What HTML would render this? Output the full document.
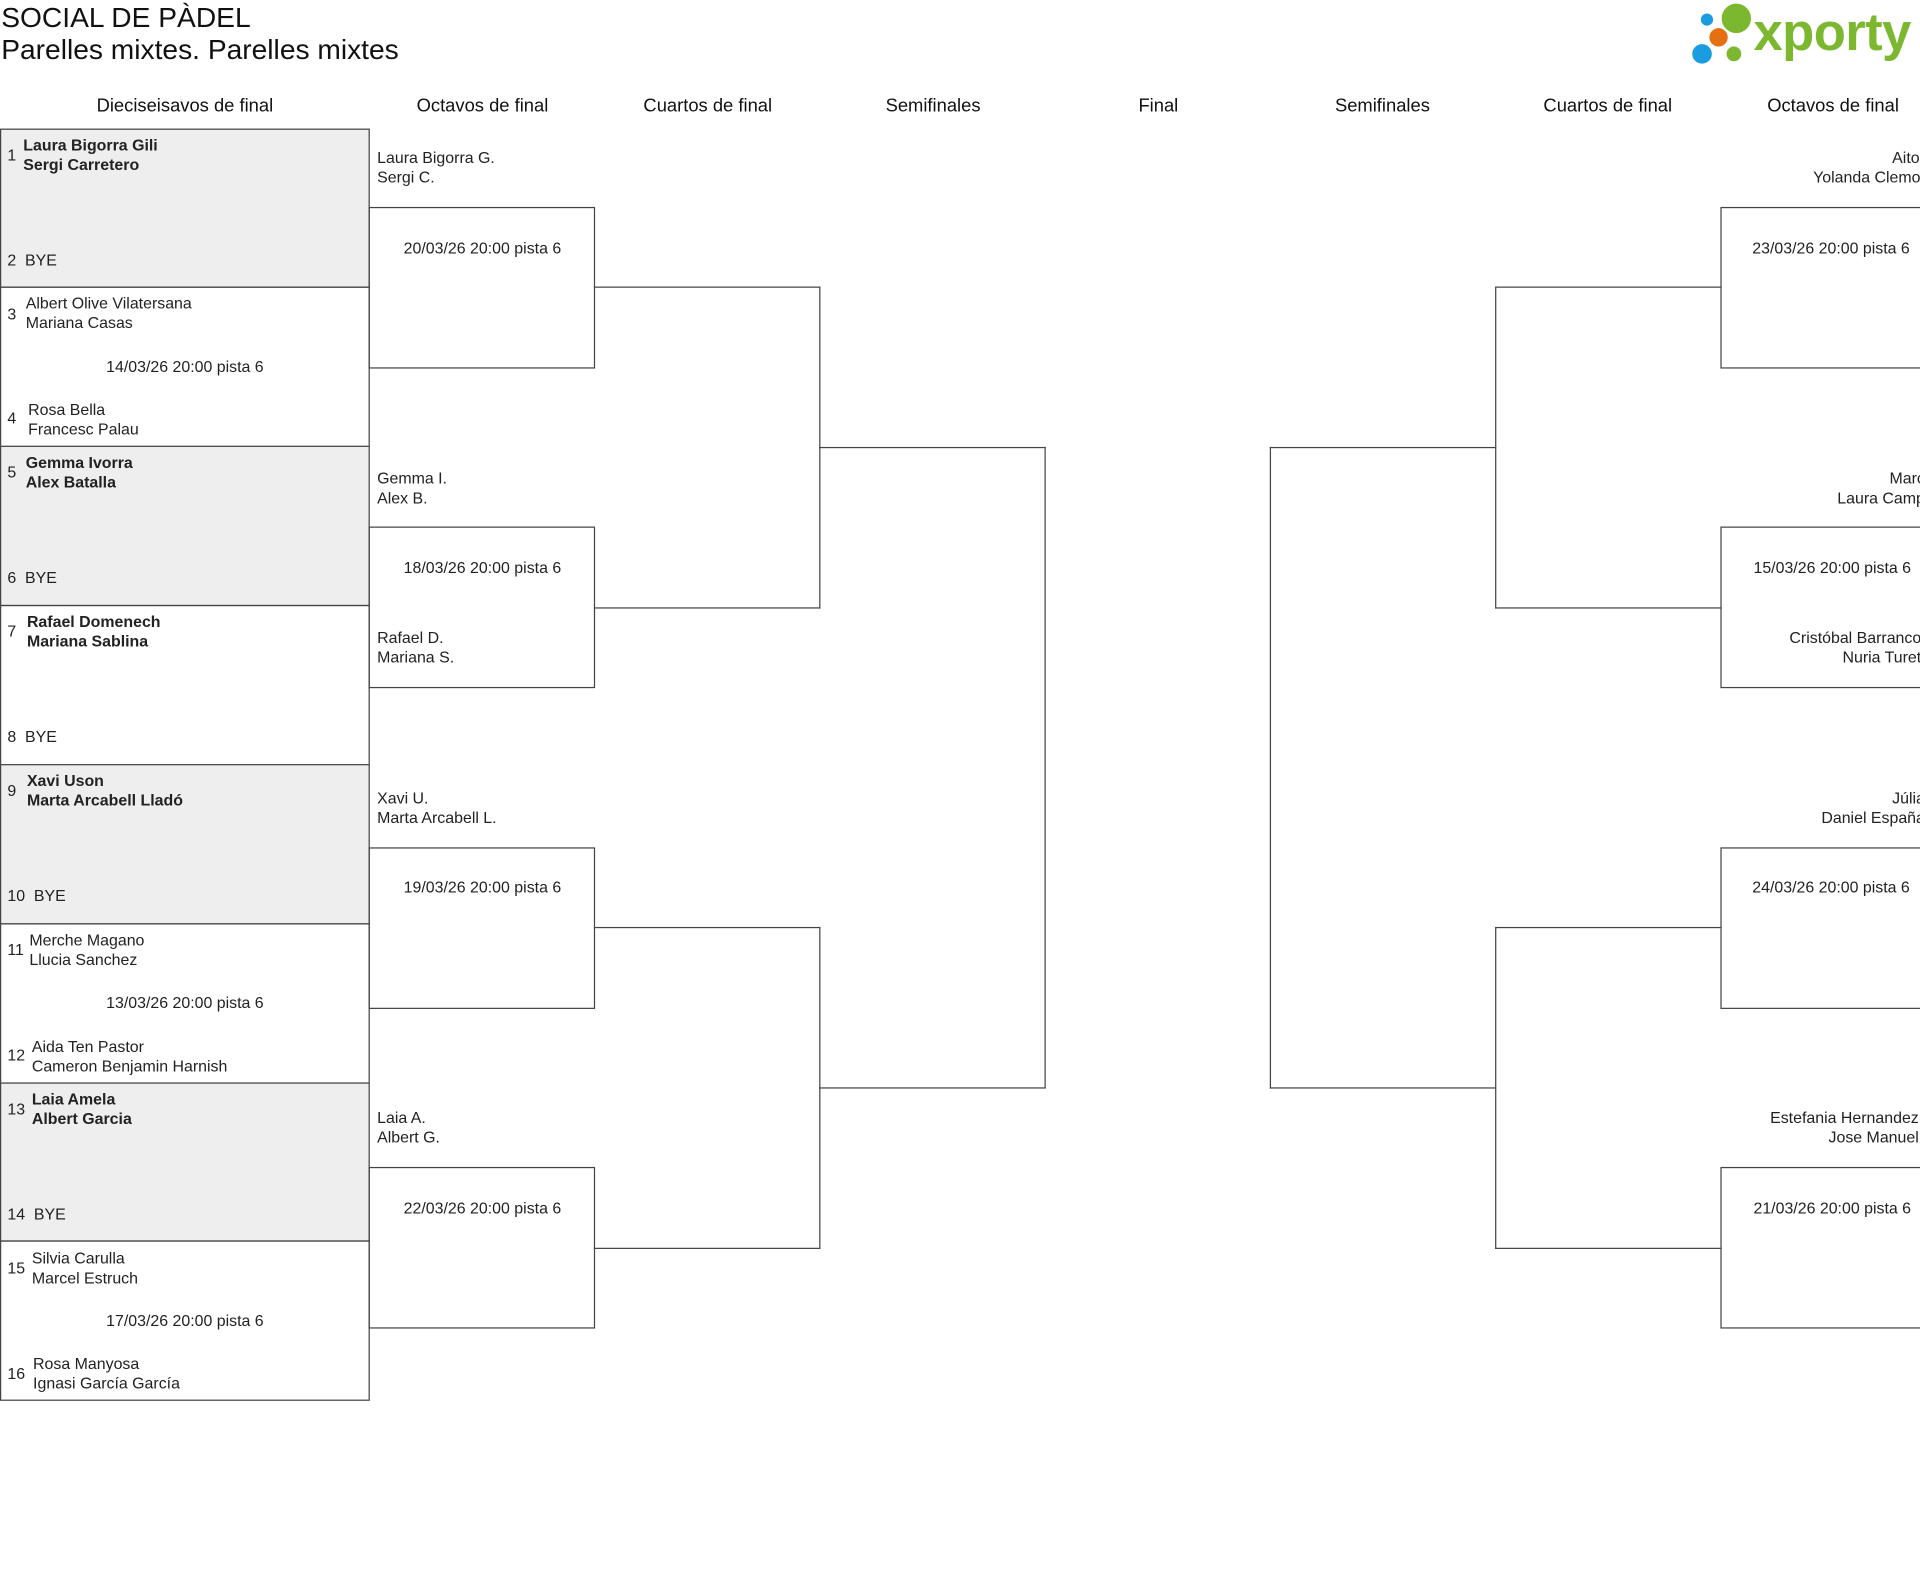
<!DOCTYPE html>
<html><head><meta charset="utf-8"><style>
html,body{margin:0;padding:0;background:#fff;}
body{width:1920px;height:1572px;overflow:hidden;position:relative;}
#w{position:absolute;left:0;top:0;width:1568px;height:1284px;transform:scale(1.22449);transform-origin:0 0;overflow:hidden;font-family:"Liberation Sans",sans-serif;color:#222;}
.a{position:absolute;white-space:nowrap;}
.t{font-size:13px;line-height:15.5px;}
.b{font-weight:bold;}
.h{font-size:15px;width:184px;text-align:center;top:78px;color:#111;}
.box{position:absolute;border:1px solid #444;box-sizing:border-box;}
.r{text-align:right;}
.c{text-align:center;}
</style></head><body><div id="w">
<div class="a" style="left:1px;top:1px;font-size:23px;color:#111">SOCIAL DE PÀDEL</div>
<div class="a" style="left:1px;top:27px;font-size:23px;color:#111">Parelles mixtes. Parelles mixtes</div>

<div class="a" style="left:1382px;top:36px;width:16px;height:16px;border-radius:50%;background:#1a9de0"></div>
<div class="a" style="left:1389px;top:11px;width:10px;height:10px;border-radius:50%;background:#1a9de0"></div>
<div class="a" style="left:1406px;top:3px;width:24px;height:24px;border-radius:50%;background:#7cb82f"></div>
<div class="a" style="left:1396px;top:23px;width:15px;height:15px;border-radius:50%;background:#e57012"></div>
<div class="a" style="left:1410px;top:38px;width:12px;height:12px;border-radius:50%;background:#7cb82f"></div>
<div class="a" style="left:1432px;top:3px;font-size:43px;font-weight:bold;color:#7cb82f;letter-spacing:-0.5px">xporty</div>

<div class="a h" style="left:59px">Dieciseisavos de final</div>
<div class="a h" style="left:302px">Octavos de final</div>
<div class="a h" style="left:486px">Cuartos de final</div>
<div class="a h" style="left:670px">Semifinales</div>
<div class="a h" style="left:854px">Final</div>
<div class="a h" style="left:1037px">Semifinales</div>
<div class="a h" style="left:1221px">Cuartos de final</div>
<div class="a h" style="left:1405px">Octavos de final</div>

<div class="box" style="left:0;top:105px;width:302px;height:130px;background:#eee"></div>
<div class="box" style="left:0;top:234px;width:302px;height:131px"></div>
<div class="box" style="left:0;top:364px;width:302px;height:131px;background:#eee"></div>
<div class="box" style="left:0;top:494px;width:302px;height:131px"></div>
<div class="box" style="left:0;top:624px;width:302px;height:131px;background:#eee"></div>
<div class="box" style="left:0;top:754px;width:302px;height:131px"></div>
<div class="box" style="left:0;top:884px;width:302px;height:130px;background:#eee"></div>
<div class="box" style="left:0;top:1013px;width:302px;height:131px"></div>

<div class="a t" style="left:6px;top:119px">1</div><div class="a t b" style="left:19px;top:111px">Laura Bigorra Gili<br>Sergi Carretero</div>
<div class="a t" style="left:6px;top:205px">2&nbsp;&nbsp;BYE</div>

<div class="a t" style="left:6px;top:249px">3</div><div class="a t" style="left:21px;top:240px">Albert Olive Vilatersana<br>Mariana Casas</div>
<div class="a t c" style="left:0;width:302px;top:292px">14/03/26 20:00 pista 6</div>
<div class="a t" style="left:6px;top:334px">4</div><div class="a t" style="left:23px;top:327px">Rosa Bella<br>Francesc Palau</div>

<div class="a t" style="left:6px;top:378px">5</div><div class="a t b" style="left:21px;top:370px">Gemma Ivorra<br>Alex Batalla</div>
<div class="a t" style="left:6px;top:464px">6&nbsp;&nbsp;BYE</div>

<div class="a t" style="left:6px;top:508px">7</div><div class="a t b" style="left:22px;top:500px">Rafael Domenech<br>Mariana Sablina</div>
<div class="a t" style="left:6px;top:594px">8&nbsp;&nbsp;BYE</div>

<div class="a t" style="left:6px;top:638px">9</div><div class="a t b" style="left:22px;top:630px">Xavi Uson<br>Marta Arcabell Lladó</div>
<div class="a t" style="left:6px;top:724px">10&nbsp;&nbsp;BYE</div>

<div class="a t" style="left:6px;top:768px">11</div><div class="a t" style="left:24px;top:760px">Merche Magano<br>Llucia Sanchez</div>
<div class="a t c" style="left:0;width:302px;top:811px">13/03/26 20:00 pista 6</div>
<div class="a t" style="left:6px;top:854px">12</div><div class="a t" style="left:26px;top:847px">Aida Ten Pastor<br>Cameron Benjamin Harnish</div>

<div class="a t" style="left:6px;top:898px">13</div><div class="a t b" style="left:26px;top:890px">Laia Amela<br>Albert Garcia</div>
<div class="a t" style="left:6px;top:984px">14&nbsp;&nbsp;BYE</div>

<div class="a t" style="left:6px;top:1028px">15</div><div class="a t" style="left:26px;top:1020px">Silvia Carulla<br>Marcel Estruch</div>
<div class="a t c" style="left:0;width:302px;top:1071px">17/03/26 20:00 pista 6</div>
<div class="a t" style="left:6px;top:1114px">16</div><div class="a t" style="left:27px;top:1106px">Rosa Manyosa<br>Ignasi García García</div>

<div class="box" style="left:301px;top:169px;width:185px;height:132px"></div>
<div class="box" style="left:301px;top:430px;width:185px;height:132px"></div>
<div class="box" style="left:301px;top:692px;width:185px;height:132px"></div>
<div class="box" style="left:301px;top:953px;width:185px;height:132px"></div>
<div class="a t" style="left:308px;top:121px">Laura Bigorra G.<br>Sergi C.</div>
<div class="a t c" style="left:302px;width:184px;top:195px">20/03/26 20:00 pista 6</div>
<div class="a t" style="left:308px;top:383px">Gemma I.<br>Alex B.</div>
<div class="a t c" style="left:302px;width:184px;top:456px">18/03/26 20:00 pista 6</div>
<div class="a t" style="left:308px;top:513px">Rafael D.<br>Mariana S.</div>
<div class="a t" style="left:308px;top:644px">Xavi U.<br>Marta Arcabell L.</div>
<div class="a t c" style="left:302px;width:184px;top:717px">19/03/26 20:00 pista 6</div>
<div class="a t" style="left:308px;top:905px">Laia A.<br>Albert G.</div>
<div class="a t c" style="left:302px;width:184px;top:979px">22/03/26 20:00 pista 6</div>

<div class="box" style="left:485px;top:234px;width:185px;height:263px;border-left:none"></div>
<div class="box" style="left:485px;top:757px;width:185px;height:263px;border-left:none"></div>
<div class="box" style="left:669px;top:365px;width:185px;height:524px;border-left:none"></div>
<div class="box" style="left:1037px;top:365px;width:185px;height:524px;border-right:none"></div>
<div class="box" style="left:1221px;top:234px;width:185px;height:263px;border-right:none"></div>
<div class="box" style="left:1221px;top:757px;width:185px;height:263px;border-right:none"></div>

<div class="box" style="left:1405px;top:169px;width:200px;height:132px"></div>
<div class="box" style="left:1405px;top:430px;width:200px;height:132px"></div>
<div class="box" style="left:1405px;top:692px;width:200px;height:132px"></div>
<div class="box" style="left:1405px;top:953px;width:200px;height:132px"></div>
<div class="a t r" style="right:-4px;top:121px">Aitor<br>Yolanda Clemot</div>
<div class="a t" style="left:1431px;top:195px">23/03/26 20:00 pista 6</div>
<div class="a t r" style="right:-4px;top:383px">Marc<br>Laura Camp</div>
<div class="a t" style="left:1432px;top:456px">15/03/26 20:00 pista 6</div>
<div class="a t r" style="right:-1px;top:513px">Cristóbal Barranco<br>Nuria Turet</div>
<div class="a t r" style="right:-4px;top:644px">Júlia<br>Daniel España</div>
<div class="a t" style="left:1431px;top:717px">24/03/26 20:00 pista 6</div>
<div class="a t r" style="right:1px;top:905px">Estefania Hernandez<br>Jose Manuel</div>
<div class="a t" style="left:1432px;top:979px">21/03/26 20:00 pista 6</div>
</div></body></html>
